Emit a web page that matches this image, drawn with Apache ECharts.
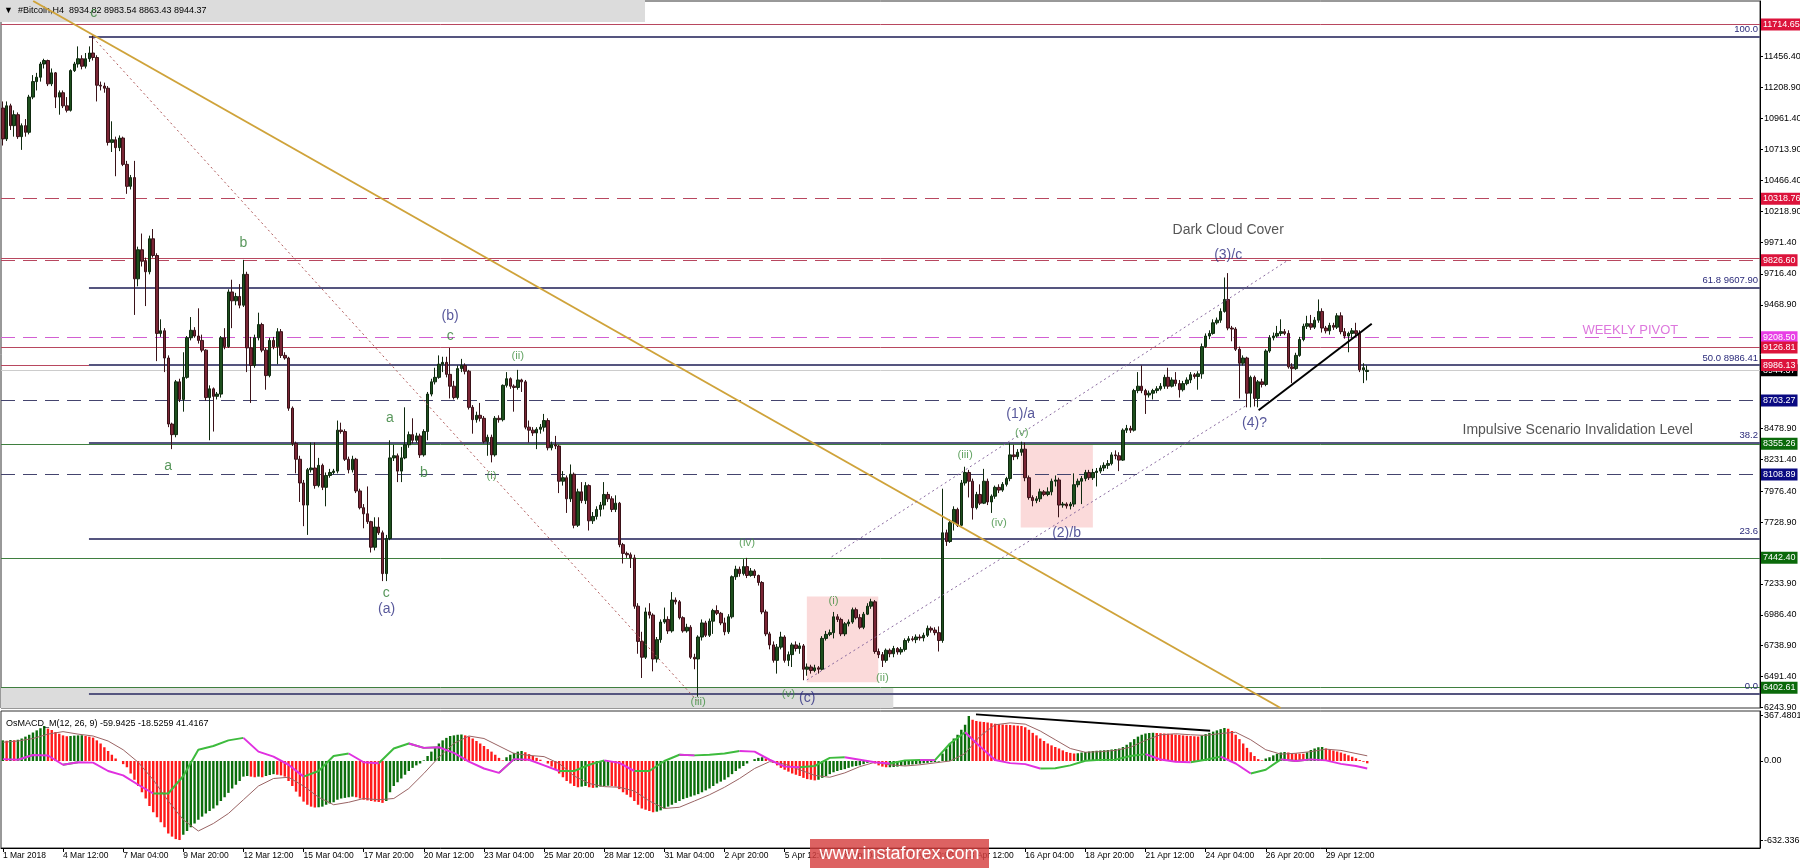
<!DOCTYPE html>
<html>
<head>
<meta charset="utf-8">
<title>Bitcoin H4</title>
<script src="https://cdn.jsdelivr.net/npm/echarts@6.0.0/dist/echarts.min.js"></script>
<style>
html,body{margin:0;padding:0;background:#ffffff;}
#chart{width:1800px;height:868px;}
</style>
</head>
<body>
<div id="chart"></div>
<script>
// ================= DATA =================
const xTickLabels = ['1 Mar 2018','4 Mar 12:00','7 Mar 04:00','9 Mar 20:00','12 Mar 12:00','15 Mar 04:00','17 Mar 20:00','20 Mar 12:00','23 Mar 04:00','25 Mar 20:00','28 Mar 12:00','31 Mar 04:00','2 Apr 20:00','5 Apr 12:00','8 Apr 04:00','10 Apr 20:00','13 Apr 12:00','16 Apr 04:00','18 Apr 20:00','21 Apr 12:00','24 Apr 04:00','26 Apr 20:00','29 Apr 12:00'];

// [open, close, low, high]
const candles = [
[11045,10798,10745,11098],[10798,11063,10781,11098],[11063,10904,10869,11080],[10904,10992,10816,11027],[10992,10816,10798,11010],
[10816,10904,10710,10922],[10904,10851,10816,10957],[10851,11133,10834,11151],[11133,11257,11116,11309],[11257,11292,11186,11327],
[11292,11398,11257,11415],[11398,11426,11362,11440],[11426,11239,11221,11433],[11239,11327,11221,11362],[11327,11133,11045,11334],
[11133,11168,10992,11186],[11168,11063,11045,11186],[11063,11027,11010,11133],[11027,11345,11017,11355],[11345,11398,11334,11415],
[11398,11440,11369,11539],[11440,11380,11355,11468],[11380,11440,11362,11486],[11440,11486,11415,11539],[11486,11450,11426,11627],
[11450,11228,11098,11468],[11228,11221,11186,11257],[11221,11204,11168,11249],[11204,10770,10745,11221],[10770,10791,10693,10939],
[10791,10728,10499,10816],[10728,10805,10700,10826],[10805,10594,10580,10816],[10594,10418,10358,10622],[10418,10488,10393,10509],
[10488,9677,9388,10622],[9677,9910,9617,9935],[9910,9818,9776,10040],[9818,9734,9459,9847],[9734,9998,9713,10023],
[9998,9864,9847,10076],[9864,9240,9018,9882],[9240,9261,9212,9353],[9261,9043,8930,9282],[9043,8514,8489,9064],
[8514,8429,8313,8525],[8429,8852,8408,8867],[8852,8711,8690,8877],[8711,8888,8613,9089],[8888,9205,8877,9219],
[9205,9265,9184,9371],[9265,9219,9205,9290],[9219,9184,9159,9441],[9184,9106,9089,9230],[9106,8726,8701,9113],
[8726,8796,8384,8824],[8796,8736,8454,8807],[8736,8754,8711,8771],[8754,9205,8726,9219],[9205,9134,9113,9282],
[9134,9572,9124,9593],[9572,9501,9282,9670],[9501,9536,9466,9565],[9536,9466,9441,9635],[9466,9713,9452,9829],
[9713,9124,8930,9734],[9124,8983,8683,9212],[8983,9205,8965,9230],[9205,9311,9184,9406],[9311,9106,9089,9325],
[9106,8902,8789,9124],[8902,9184,8888,9205],[9184,9134,9113,9212],[9134,9254,8993,9282],[9254,9064,9043,9275],
[9064,9043,9029,9089],[9043,8641,8620,9053],[8641,8359,8338,8655],[8359,8232,8119,8373],[8232,8042,7890,8260],
[8042,7865,7696,8066],[7865,8148,7626,8162],[8148,8162,8126,8366],[8162,8021,7996,8366],[8021,8183,8007,8243],
[8183,8007,7985,8197],[8007,8102,7855,8126],[8102,8126,8084,8155],[8126,8137,8112,8155],[8137,8465,8119,8542],
[8465,8454,8437,8525],[8454,8232,8218,8472],[8232,8148,8119,8253],[8148,8232,8126,8260],[8232,7978,7961,8243],
[7978,7844,7830,7996],[7844,7795,7679,7873],[7795,7732,7714,8014],[7732,7527,7485,7739],[7527,7689,7502,7767],
[7689,7643,7626,7767],[7643,7316,7256,7661],[7316,7597,7256,7626],[7597,8243,7584,8384],[8243,8260,8218,8348],
[8260,8137,8049,8278],[8137,8243,8049,8331],[8243,8348,8232,8648],[8348,8429,8324,8454],[8429,8384,8359,8560],
[8384,8419,8366,8444],[8419,8267,8243,8437],[8267,8454,8253,8472],[8454,8754,8384,8771],[8754,8852,8736,8877],
[8852,8888,8831,8965],[8888,8993,8877,9064],[8993,9008,8930,9053],[9008,8912,8888,9053],[8912,8817,8719,9124],
[8817,8726,8711,8860],[8726,8958,8711,8983],[8958,8983,8930,9036],[8983,8937,8912,9000],[8937,8648,8630,8948],
[8648,8549,8437,8666],[8549,8584,8525,8613],[8584,8560,8535,8683],[8560,8373,8359,8578],[8373,8408,8260,8429],
[8408,8267,8207,8429],[8267,8560,8253,8578],[8560,8549,8525,8584],[8549,8824,8535,8831],[8824,8877,8807,8930],
[8877,8817,8796,8888],[8817,8807,8613,8831],[8807,8867,8789,8948],[8867,8852,8771,8877],[8852,8489,8472,8867],
[8489,8465,8366,8542],[8465,8443,8419,8489],[8443,8472,8313,8489],[8472,8489,8437,8514],[8489,8542,8454,8595],
[8542,8324,8303,8560],[8324,8348,8303,8373],[8348,8338,8313,8419],[8338,8056,7961,8348],[8056,8084,8021,8137],
[8084,7915,7802,8102],[7915,8112,7890,8190],[8112,7703,7679,8126],[7703,7971,7689,7996],[7971,7901,7880,8049],
[7901,8021,7873,8049],[8021,7739,7661,8031],[7739,7774,7714,7809],[7774,7830,7749,7855],[7830,7865,7774,7890],
[7865,7950,7830,8049],[7950,7915,7890,7971],[7915,7830,7809,7936],[7830,7880,7809,7943],[7880,7548,7527,7890],
[7548,7478,7397,7562],[7478,7467,7442,7492],[7467,7442,7361,7485],[7442,7055,7034,7467],[7055,6773,6674,7079],
[6773,6646,6480,6850],[6646,7009,6632,7044],[7009,6984,6956,7079],[6984,6632,6533,6998],[6632,6787,6603,6808],
[6787,6928,6762,6949],[6928,6949,6914,7044],[6949,6857,6833,6974],[6857,7104,6843,7168],[7104,7090,7069,7125],
[7090,6963,6949,7104],[6963,6857,6843,6974],[6857,6886,6843,6914],[6886,6646,6632,6903],[6646,6632,6550,6674],
[6632,6808,6330,6822],[6808,6921,6780,6949],[6921,6822,6808,6938],[6822,6935,6808,6956],[6935,7020,6833,7034],
[7020,6998,6984,7062],[6998,6921,6903,7009],[6921,6850,6822,6963],[6850,6970,6833,6991],[6970,7291,6956,7301],
[7291,7351,7266,7379],[7351,7316,7291,7372],[7316,7372,7301,7432],[7372,7301,7280,7442],[7301,7337,7291,7361],
[7337,7301,7280,7351],[7301,7245,7220,7308],[7245,7009,6991,7256],[7009,6833,6815,7027],[6833,6745,6709,6850],
[6745,6621,6603,6773],[6621,6727,6515,6752],[6727,6808,6709,6850],[6808,6621,6603,6822],[6621,6667,6575,6692],
[6667,6745,6568,6762],[6745,6716,6692,6773],[6716,6737,6674,6762],[6737,6550,6462,6752],[6550,6568,6498,6596],
[6568,6540,6515,6586],[6540,6561,6526,6586],[6561,6550,6515,6575],[6550,6797,6540,6815],[6797,6829,6780,6857],
[6829,6843,6815,6868],[6843,6970,6797,7009],[6970,6949,6928,6991],[6949,6833,6815,6963],[6833,6914,6815,6928],
[6914,6928,6893,6949],[6928,7027,6914,7044],[7027,6963,6949,7044],[6963,6886,6871,6991],[6886,6991,6871,7009],
[6991,7055,6984,7079],[7055,7090,7034,7114],[7090,6692,6674,7104],[6692,6667,6639,6716],[6667,6621,6568,6688],
[6621,6702,6603,6716],[6702,6674,6646,6716],[6674,6716,6646,6737],[6716,6688,6667,6727],[6688,6709,6667,6727],
[6709,6780,6692,6797],[6780,6794,6762,6815],[6794,6787,6773,6815],[6787,6808,6759,6829],[6808,6801,6780,6829],
[6801,6822,6773,6843],[6822,6878,6808,6900],[6878,6864,6843,6893],[6864,6843,6822,6886],[6843,6780,6692,6893],
[6780,7643,6762,7996],[7643,7573,7538,7668],[7573,7724,7562,7749],[7724,7830,7661,7855],[7830,7703,7689,7844],
[7703,8042,7696,8066],[8042,8126,8021,8172],[8126,8056,7926,8147],[8056,7844,7749,8077],[7844,7950,7830,7971],
[7950,7880,7865,8031],[7880,8056,7873,8155],[8056,7890,7865,8077],[7890,7936,7802,7950],[7936,8007,7915,8021],
[8007,7985,7961,8031],[7985,8031,7971,8049],[8031,8077,8014,8091],[8077,8267,8056,8359],[8267,8253,8225,8348],
[8253,8288,8232,8313],[8288,8313,8260,8373],[8313,8084,8056,8366],[8084,7925,7908,8102],[7925,7901,7855,7943],
[7901,7915,7880,7936],[7915,7971,7890,7996],[7971,7950,7936,7985],[7950,7971,7936,8007],[7971,8056,7943,8077],
[8056,8066,8014,8102],[8066,7865,7767,8084],[7865,7873,7844,7890],[7873,7858,7837,7887],[7858,7873,7830,7890],
[7873,8028,7851,8119],[8028,8056,8007,8077],[8056,8077,7873,8098],[8077,8126,8056,8147],[8126,8084,8066,8147],
[8084,8126,8066,8155],[8126,8137,8014,8162],[8137,8162,8119,8183],[8162,8183,8137,8207],[8183,8197,8155,8225],
[8197,8267,8183,8288],[8267,8260,8232,8303],[8260,8225,8137,8288],[8225,8465,8218,8479],[8465,8479,8443,8507],
[8479,8465,8443,8500],[8465,8782,8454,8796],[8782,8817,8761,8930],[8817,8782,8761,8983],[8782,8747,8595,8796],
[8747,8761,8726,8782],[8761,8782,8711,8796],[8782,8796,8761,8817],[8796,8817,8782,8842],[8817,8888,8796,8909],
[8888,8817,8796,8965],[8817,8867,8807,8888],[8867,8838,8817,8930],[8838,8789,8726,8867],[8789,8838,8775,8860],
[8838,8867,8824,8888],[8867,8909,8842,8930],[8909,8895,8877,8923],[8895,8916,8789,8937],[8916,9134,8877,9159],
[9134,9219,9124,9240],[9219,9240,9194,9265],[9240,9325,9230,9353],[9325,9346,9311,9367],[9346,9416,9325,9441],
[9416,9512,9406,9688],[9512,9283,9265,9723],[9283,9275,9177,9300],[9275,9113,9099,9290],[9113,9001,8719,9134],
[9001,9043,8983,9064],[9043,8761,8648,9053],[8761,8888,8648,8902],[8888,8719,8655,8902],[8719,8852,8648,8867],
[8852,8831,8807,8877],[8831,9099,8817,9113],[9099,9205,9085,9226],[9205,9219,9184,9247],[9219,9240,9205,9300],
[9240,9254,9219,9353],[9254,9240,9226,9275],[9240,8972,8958,9265],[8972,8958,8842,9001],[8958,9064,8948,9085],
[9064,9191,9053,9212],[9191,9297,9177,9318],[9297,9318,9275,9381],[9318,9290,9268,9388],[9290,9346,9275,9371],
[9346,9416,9325,9512],[9416,9283,9247,9441],[9283,9261,9240,9300],[9261,9304,9230,9325],[9304,9290,9268,9325],
[9290,9381,9275,9402],[9381,9254,9233,9409],[9254,9219,9198,9283],[9219,9240,9089,9254],[9240,9261,9205,9283],
[9261,9240,9219,9325],[9240,8948,8930,9265],[8948,8965,8842,9001],[8934.82,8944.37,8863.43,8983.54]
];

const macdHist = [
165,162,168,166,170,180,195,210,228,245,262,280,
259,248,232,218,205,198,200,203,205,206,200,195,
187,165,140,110,80,50,20,0,-25,
-50,-100,-150,-200,-250,-300,-360,-410,-450,-490,-530,-580,-605,-625,-632.3,
-590,-560,-530,-500,-470,-445,-420,-400,-380,-355,-320,-290,-255,-220,-190,-160,-125,
-120,-125,-130,-125,-130,-120,-112,-105,-110,-115,-125,
-160,-200,-245,-285,-325,-350,-365,-372,-370,-365,
-350,-340,-330,-310,-300,-295,-290,-285,
-290,-300,-310,-315,-320,-325,-328,-335,-320,
-250,-200,-170,-140,-110,-80,-55,-35,-20,5,40,75,110,140,165,185,200,205,210,212,
205,195,180,160,140,120,95,75,50,25,5,
30,50,65,75,80,
70,55,40,25,10,0,-20,-45,-70,-100,-130,-160,-180,-200,-210,
-205,-200,-210,-215,-212,-205,-200,-198,-200,-205,-225,-250,-270,-290,-320,-350,-380,-390,-400,-410,
-405,-395,-380,-365,-350,-335,-320,-305,-295,-285,-275,-265,-250,-235,-220,-200,-180,-165,-150,-130,-105,-80,-60,-40,-20,
0,15,25,30,20,5,-15,-35,-55,-70,-85,-100,-110,-120,-135,-145,-150,-155,-150,
-135,-120,-105,-90,-80,-72,-65,-55,-45,-40,-35,-25,-15,-5,
-20,-35,-45,-50,-50,-48,-45,-40,-35,-30,-28,-25,-22,-18,-15,-10,-8,-5,
60,100,140,180,210,250,290,360,
330,320,315,312,308,302,298,295,292,290,288,285,283,280,
270,250,225,205,180,160,140,125,112,100,85,72,65,60,
62,68,72,76,80,82,84,86,88,
92,96,100,112,130,150,175,195,210,220,224,226,
224,222,220,218,215,212,208,205,202,200,198,196,
205,215,225,235,245,255,264,
258,240,210,175,140,105,70,40,15,5,20,
30,45,58,68,72,68,64,61,59,58,70,88,100,110,112,
100,92,84,76,68,58,46,34,22,8,-6,-18.5
];

const macdSampleBars = [0,4,8,12,16,20,24,28,32,36,40,44,48,52,56,60,64,68,72,76,80,84,88,92,96,100,104,108,112,116,120,124,128,132,136,140,144,148,152,156,160,164,168,172,176,180,184,188,192,196,200,204,208,212,216,220,224,228,232,236,240,244,248,252,256,260,264,268,272,276,280,284,288,292,296,300,304,308,312,316,320,324,328,332,336,340,344,348,352,356,360,363];
const macdSignal = [150,160,180,215,235,215,200,160,90,-10,-150,-320,-470,-560,-500,-420,-310,-200,-140,-130,-200,-290,-350,-330,-300,-310,-300,-220,-100,30,140,200,180,120,60,45,35,-20,-120,-180,-205,-210,-240,-320,-380,-370,-320,-270,-210,-140,-60,-5,-25,-70,-115,-130,-95,-45,-10,-30,-40,-30,-15,0,60,200,290,305,295,240,170,100,70,75,85,110,165,210,218,210,205,220,230,170,90,55,62,75,95,85,60,41.4];
const macdOsma = [15,10,48,44,-30,-10,-13,-80,-115,-190,-260,-260,-120,90,120,165,185,75,35,-30,-125,-80,40,60,-10,-18,100,140,105,110,65,-5,-60,-95,15,10,-35,-80,-80,-30,5,-15,-80,-80,0,50,45,50,60,80,75,10,-45,-50,-40,25,30,10,-10,-20,5,8,7,140,230,115,8,-17,-25,-60,-58,-35,2,9,11,40,55,12,-6,-10,10,35,-20,-100,-70,13,0,13,5,-23,-40,-59.94];

const priceTicks = [6243.90,6491.40,6738.90,6986.40,7233.90,7728.90,7976.40,8231.40,8478.90,9468.90,9716.40,9971.40,10218.90,10466.40,10713.90,10961.40,11208.90,11456.40];
const macdTicks = [367.4801, 0, -632.3366];

const levelPrices = [11714.65, 10318.76, 9842.00, 9826.60, 9208.50, 9126.81, 8944.37, 8986.13, 8703.27, 8355.26, 8108.89, 7442.40, 6402.61];
const fibPrices = [11619.86, 9607.90, 8986.41, 8364.90, 7596.32, 6352.96];
const fibTexts = ['100.0', '61.8 9607.90', '50.0 8986.41', '38.2', '23.6', '0.0'];

// ================= STYLE / LAYOUT =================
const FONT = '"Liberation Sans", Arial, sans-serif';
const NSLOTS = 468;
const Y_MIN = 6239.5, Y_MAX = 11902.6;
const M_MIN = -696, M_MAX = 400;
const CR = '#b8475f', CRB = '#dc143c', MG = '#d25fd2', MGB = '#e83fe6', NV = '#44446e', NVB = '#0a0a82', GR = '#3f7f3f', GRB = '#0b6a0b';
const levelStyles = [
  {t:'s', c:CR, b:CRB}, {t:'d', c:CR, b:CRB}, {t:'s', c:CR, b:null}, {t:'d', c:CR, b:CRB},
  {t:'d', c:MG, b:MGB}, {t:'s', c:CR, b:CRB}, {t:'s', c:'#cccccc', b:'#000000'}, {t:'s', c:CR, b:CRB},
  {t:'d', c:NV, b:NVB}, {t:'s', c:GR, b:GRB}, {t:'d', c:NV, b:NVB}, {t:'s', c:GR, b:GRB}, {t:'s', c:GR, b:GRB}
];
const FIB_START = 22.9;

const annotations = [
 {t:'c', x:24.2, y:11806, k:'g'}, {t:'b', x:64.0, y:9960, k:'g'}, {t:'a', x:44.0, y:8173, k:'g'},
 {t:'(b)', x:119, y:9382, k:'n'}, {t:'c', x:119, y:9219, k:'g'}, {t:'(ii)', x:137, y:9064, k:'r'},
 {t:'a', x:103, y:8562, k:'g'}, {t:'b', x:112, y:8122, k:'g'}, {t:'(i)', x:130, y:8103, k:'r'},
 {t:'c', x:102, y:7160, k:'g'}, {t:'(a)', x:102.1, y:7034, k:'n'}, {t:'(iii)', x:185, y:6290, k:'r'},
 {t:'(iv)', x:198, y:7563, k:'r'}, {t:'(i)', x:221, y:7097, k:'r'}, {t:'(ii)', x:234, y:6485, k:'r'},
 {t:'(v)', x:209, y:6352, k:'r'}, {t:'(c)', x:214, y:6322, k:'n'}, {t:'(iii)', x:256, y:8271, k:'r'},
 {t:'(1)/a', x:270.8, y:8596, k:'n'}, {t:'(v)', x:271.1, y:8444, k:'r'}, {t:'(iv)', x:265, y:7721, k:'r'},
 {t:'(2)/b', x:283, y:7644, k:'n'}, {t:'(3)/c', x:326, y:9865, k:'n'}, {t:'(4)?', x:333, y:8525, k:'n'},
 {t:'Dark Cloud Cover', x:326, y:10066, k:'d'}, {t:'WEEKLY PIVOT', x:433, y:9267, k:'m'},
 {t:'Impulsive Scenario Invalidation Level', x:419, y:8466, k:'d'}
];
const annStyle = {
  g: {color:'#2e7d32', fontSize:14},
  r: {color:'#3f8f3f', fontSize:11.5},
  n: {color:'#2e2e82', fontSize:14},
  d: {color:'#2a2a2a', fontSize:14},
  m: {color:'#d455d4', fontSize:13}
};

// ================= BUILD =================
const cats = Array.from({length: NSLOTS}, (_, i) => String(i));
const tickShown = (i) => i % 16 === 0 && (i / 16) < xTickLabels.length;

const histData = macdHist.map((v, i) => ({
  value: v,
  itemStyle: {color: (i > 0 && v < macdHist[i - 1]) ? '#ff1a1a' : '#0b6e0b'}
}));

const osUp = macdSampleBars.map(b => [b, null]);
const osDn = macdSampleBars.map(b => [b, null]);
for (let k = 1; k < macdSampleBars.length; k++) {
  const arr = macdOsma[k] >= macdOsma[k - 1] ? osUp : osDn;
  arr[k - 1] = [macdSampleBars[k - 1], macdOsma[k - 1]];
  arr[k] = [macdSampleBars[k], macdOsma[k]];
}
const signalData = macdSampleBars.map((b, k) => [b, macdSignal[k]]);

const levelLines = levelPrices.map((p, i) => {
  const s = levelStyles[i];
  return {
    yAxis: p,
    lineStyle: {color: s.c, width: 1, type: s.t === 'd' ? [14, 8] : 'solid'},
    label: s.b ? {show: true, position: 'end', distance: 1, formatter: p.toFixed(2), color: '#fff',
      backgroundColor: s.b, padding: [2, 2, 1, 2], fontSize: 9, fontFamily: FONT} : {show: false}
  };
});
const fibLines = fibPrices.map((p, i) => [
  {coord: [FIB_START, p], lineStyle: {color: '#55557f', width: 2, type: 'solid'},
   label: {show: true, position: 'insideEndTop', distance: 2, formatter: fibTexts[i], color: '#2a2a7a', fontSize: 9.5, fontFamily: FONT}},
  {coord: [NSLOTS - 0.5, p]}
]);

const areas = [
  [{coord: [-0.5, 6400], itemStyle: {color: '#dcdcdc'}}, {coord: [236.9, Y_MIN]}],
  [{coord: [213.9, 7132.6], itemStyle: {color: 'rgba(250,205,205,0.75)'}}, {coord: [232.9, 6445]}],
  [{coord: [270.8, 8359.7], itemStyle: {color: 'rgba(250,205,205,0.75)'}}, {coord: [290.0, 7686]}]
];

function trend(name, pts, color, width, type, z, xi, yi) {
  return {name, type: 'line', xAxisIndex: xi, yAxisIndex: yi, data: pts, symbol: 'none', silent: true, z,
    lineStyle: {color, width, type}, animation: false};
}

const annData = annotations.map(a => ({
  name: a.t, value: [a.x, a.y],
  label: {show: true, position: 'inside', formatter: a.t, color: annStyle[a.k].color,
    fontSize: annStyle[a.k].fontSize, fontFamily: FONT}
}));

const chart = echarts.init(document.getElementById('chart'), null, {renderer: 'canvas'});
const option = {
  animation: false,
  backgroundColor: '#ffffff',
  textStyle: {fontFamily: FONT},
  grid: [
    {left: 1, top: 1, width: 1759, height: 707, show: true, borderColor: '#333', borderWidth: 1, backgroundColor: 'transparent', containLabel: false, outerBoundsMode: 'none'},
    {left: 1, top: 711, width: 1759, height: 137, show: true, borderColor: '#333', borderWidth: 1, backgroundColor: 'transparent', containLabel: false, outerBoundsMode: 'none'}
  ],
  xAxis: [
    {gridIndex: 0, type: 'category', data: cats, boundaryGap: true, axisLine: {show: false, onZero: false}, axisTick: {show: false}, axisLabel: {show: false}, splitLine: {show: false}},
    {gridIndex: 0, type: 'value', min: -0.5, max: NSLOTS - 0.5, show: false, axisLine: {onZero: false}, splitLine: {show: false}},
    {gridIndex: 1, type: 'category', data: cats, boundaryGap: true, position: 'bottom',
      axisLine: {show: true, onZero: false, lineStyle: {color: '#000'}},
      axisTick: {show: true, interval: tickShown, alignWithLabel: true, length: 4, lineStyle: {color: '#000'}},
      axisLabel: {show: true, interval: tickShown, formatter: (v, i) => xTickLabels[i / 16] || '', align: 'left',
        margin: 3, fontSize: 8.5, color: '#000', fontFamily: FONT},
      splitLine: {show: false}},
    {gridIndex: 1, type: 'value', min: -0.5, max: NSLOTS - 0.5, show: false, axisLine: {onZero: false}, splitLine: {show: false}}
  ],
  yAxis: [
    {gridIndex: 0, type: 'value', position: 'right', min: Y_MIN, max: Y_MAX,
      axisLine: {show: true, onZero: false, lineStyle: {color: '#000', width: 1}},
      axisTick: {show: true, customValues: priceTicks, length: 3, lineStyle: {color: '#000'}},
      axisLabel: {show: true, customValues: priceTicks, formatter: v => Number(v).toFixed(2), color: '#000', fontSize: 9, margin: 4, fontFamily: FONT},
      splitLine: {show: false}},
    {gridIndex: 1, type: 'value', position: 'right', min: M_MIN, max: M_MAX,
      axisLine: {show: true, onZero: false, lineStyle: {color: '#000', width: 1}},
      axisTick: {show: true, customValues: macdTicks, length: 3, lineStyle: {color: '#000'}},
      axisLabel: {show: true, customValues: macdTicks, formatter: v => (Number(v) === 0 ? '0.00' : Number(v).toFixed(4)), color: '#000', fontSize: 9, margin: 4, fontFamily: FONT},
      splitLine: {show: false}}
  ],
  series: [
    {name: 'areas', type: 'line', xAxisIndex: 1, yAxisIndex: 0, data: [], z: 1, silent: true,
      markArea: {silent: true, data: areas}},
    {name: 'levels', type: 'line', xAxisIndex: 1, yAxisIndex: 0, data: [], z: 2, silent: true,
      markLine: {silent: true, symbol: ['none', 'none'], animation: false, data: levelLines.concat(fibLines)}},
    {name: 'Bitcoin H4', type: 'candlestick', xAxisIndex: 0, yAxisIndex: 0, data: candles, z: 5, barWidth: 3,
      itemStyle: {color: '#1d4f1d', color0: '#7a2535', borderColor: '#0f2a0f', borderColor0: '#3a1218', borderWidth: 1}},
    trend('gold', [[8.06, 11902.6], [339.96, 6239.5]], '#cfa33a', 2, 'solid', 6, 1, 0),
    trend('diag', [[24.0, 11609], [185.0, 6288]], '#b05a5a', 1, [2, 3], 6, 1, 0),
    trend('chanUp', [[220.5, 7451], [341.6, 9820]], '#8a6aa0', 1, [2, 3], 6, 1, 0),
    trend('chanLow', [[213.9, 6464], [331.0, 8666]], '#8a6aa0', 1, [2, 3], 6, 1, 0),
    trend('wedge', [[334.1, 8624], [364.2, 9318]], '#000000', 2, 'solid', 6, 1, 0),
    {name: 'labels', type: 'scatter', xAxisIndex: 1, yAxisIndex: 0, data: annData, symbolSize: 1,
      itemStyle: {color: 'rgba(0,0,0,0)'}, z: 8, silent: true},
    {name: 'OsMACD', type: 'bar', xAxisIndex: 2, yAxisIndex: 1, data: histData, barWidth: 2.4, z: 3, silent: true},
    trend('signal', signalData, '#9a6464', 1, 'solid', 4, 3, 1),
    Object.assign(trend('osmaUp', osUp, '#3dbb3d', 2, 'solid', 5, 3, 1), {connectNulls: false}),
    Object.assign(trend('osmaDn', osDn, '#e030e0', 2, 'solid', 5, 3, 1), {connectNulls: false}),
    trend('macdTrend', [[258.9, 373], [321.2, 242]], '#000000', 2, 'solid', 6, 3, 1)
  ],
  graphic: [
    {type: 'rect', left: 0, top: 0, shape: {width: 645, height: 22}, style: {fill: '#dcdcdc'}, z: 0, silent: true},
    {type: 'text', left: 4, top: 6, style: {text: '\u25BC  #Bitcoin,H4  8934.82 8983.54 8863.43 8944.37', fontSize: 9, fill: '#000', fontFamily: FONT}, z: 1, silent: true},
    {type: 'text', left: 6, top: 719, style: {text: 'OsMACD_M(12, 26, 9) -59.9425 -18.5259 41.4167', fontSize: 9, fill: '#000', fontFamily: FONT}, z: 10, silent: true},
    {type: 'group', left: 810, top: 839, z: 100, silent: true, children: [
      {type: 'rect', shape: {x: 0, y: 0, width: 179, height: 29}, style: {fill: 'rgba(214,64,64,0.82)'}, z: 100},
      {type: 'text', x: 89.5, y: 15, style: {text: 'www.instaforex.com', fontSize: 18, fill: '#ffffff', align: 'center', verticalAlign: 'middle', fontFamily: '"Liberation Sans Narrow", "Liberation Sans", Arial, sans-serif'}, z: 101}
    ]}
  ]
};
chart.setOption(option);
</script>
</body>
</html>
